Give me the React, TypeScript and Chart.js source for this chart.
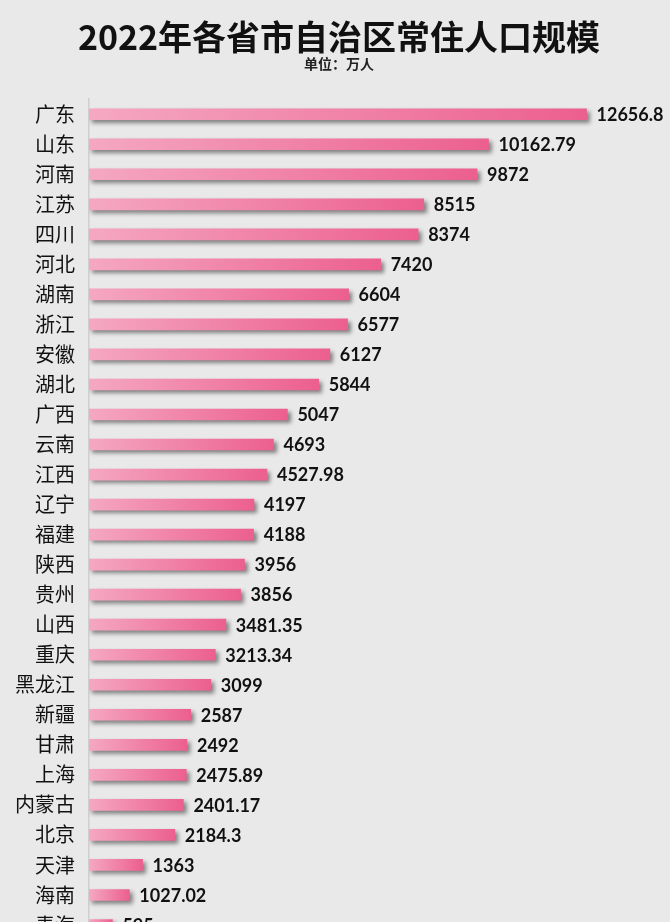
import React, { useEffect, useRef } from "react";
import { Chart, registerables } from "chart.js";

Chart.register(...registerables);

const TITLE = "2022年各省市自治区常住人口规模";
const SUBTITLE = "单位：万人";

const provinces = [
  "广东", "山东", "河南", "江苏", "四川", "河北", "湖南", "浙江", "安徽", "湖北",
  "广西", "云南", "江西", "辽宁", "福建", "陕西", "贵州", "山西", "重庆", "黑龙江",
  "新疆", "甘肃", "上海", "内蒙古", "北京", "天津", "海南", "青海",
];

const population = [
  12656.8, 10162.79, 9872, 8515, 8374, 7420, 6604, 6577, 6127, 5844,
  5047, 4693, 4527.98, 4197, 4188, 3956, 3856, 3481.35, 3213.34, 3099,
  2587, 2492, 2475.89, 2401.17, 2184.3, 1363, 1027.02, 595,
];

const xMax = 14780;

const shadowPlugin = {
  id: "barShadow",
  beforeDatasetsDraw(chart: any) {
    const ctx = chart.ctx;
    ctx.save();
    ctx.shadowColor = "rgba(0,0,0,0.45)";
    ctx.shadowBlur = 4;
    ctx.shadowOffsetX = 3;
    ctx.shadowOffsetY = 3;
  },
  afterDatasetsDraw(chart: any) {
    chart.ctx.restore();
  },
};

const valueLabelPlugin = {
  id: "valueLabels",
  afterDraw(chart: any) {
    const ctx = chart.ctx;
    const meta = chart.getDatasetMeta(0);
    ctx.save();
    ctx.font = "bold 18px Lato, 'Noto Sans', sans-serif";
    ctx.fillStyle = "#111";
    ctx.textAlign = "left";
    ctx.textBaseline = "middle";
    meta.data.forEach((bar: any, i: number) => {
      const v = chart.data.datasets[0].data[i];
      ctx.fillText(String(v), bar.x + 10, bar.y + 1);
    });
    ctx.restore();
  },
};

export default function App() {
  const ref = useRef<HTMLCanvasElement>(null);

  useEffect(() => {
    document.body.style.margin = "0";
    document.body.style.background = "#e9e9e9";
    const canvas = ref.current!;
    const chart = new Chart(canvas, {
      type: "bar",
      data: {
        labels: provinces,
        datasets: [
          {
            data: population,
            barThickness: 11,
            borderWidth: 0,
            backgroundColor: (c: any) => {
              const ch = c.chart;
              const xs = ch.scales.x;
              if (!xs || !ch.chartArea) return "#ef7aa2";
              const x0 = xs.getPixelForValue(0);
              const x1 = xs.getPixelForValue(c.raw ?? 1);
              const g = ch.ctx.createLinearGradient(x0, 0, Math.max(x1, x0 + 1), 0);
              g.addColorStop(0, "#f5a8c2");
              g.addColorStop(1, "#ec5f8f");
              return g;
            },
          },
        ],
      },
      options: {
        indexAxis: "y",
        responsive: false,
        maintainAspectRatio: false,
        animation: false,
        layout: { padding: { left: 8, right: 0, top: 0, bottom: 6 } },
        plugins: {
          legend: { display: false },
          tooltip: { enabled: false },
          title: {
            display: true,
            text: TITLE,
            color: "#111",
            font: { family: "'Noto Sans CJK SC', sans-serif", size: 34, weight: "bold", lineHeight: 1.1 },
            padding: { top: 18, bottom: 0 },
          },
          subtitle: {
            display: true,
            text: SUBTITLE,
            color: "#222",
            font: { family: "'Noto Sans CJK SC', sans-serif", size: 14, weight: "bold", lineHeight: 1.2 },
            padding: { top: 0, bottom: 27 },
          },
        },
        scales: {
          x: {
            display: false,
            min: 0,
            max: xMax,
          },
          y: {
            afterFit: (s: any) => {
              s.width = 81;
            },
            grid: { display: false, drawTicks: false },
            border: { display: true, color: "#cfcfcf", width: 1.5 },
            ticks: {
              padding: 14,
              color: "#111",
              font: { family: "'Noto Sans CJK SC', sans-serif", size: 20 },
            },
          },
        },
      },
      plugins: [shadowPlugin, valueLabelPlugin],
    } as any);
    return () => chart.destroy();
  }, []);

  return (
    <div style={{ width: 670, height: 922, overflow: "hidden", background: "#e9e9e9" }}>
      <canvas
        ref={ref}
        width={670}
        height={966}
        style={{ display: "block", width: 670, height: 966 }}
      />
    </div>
  );
}
